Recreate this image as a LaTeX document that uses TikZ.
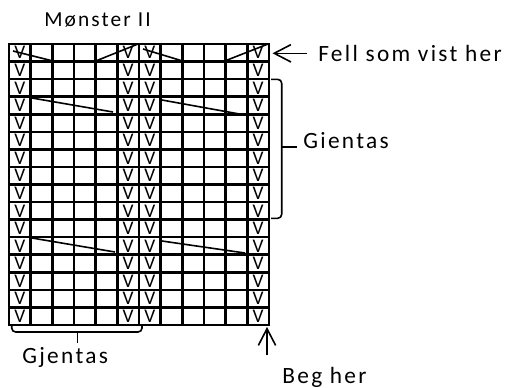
\documentclass[tikz,border=0pt]{standalone}
\usepackage{fontspec}
\setmainfont{Carlito}
\newfontfamily\labelfont{Carlito}[LetterSpace=10]
\usetikzlibrary{arrows.meta}

\tikzset{
  gridline/.style={line width=1.9pt,line cap=rect},
  thinline/.style={line width=1.2pt},
  stitch/.style={inner sep=0,font=\fontsize{14.5}{14.5}\selectfont},
  caption/.style={anchor=base west,inner sep=0,font=\labelfont\fontsize{17.5}{20}\selectfont}
}

\begin{document}
\begin{tikzpicture}[x=0.75pt,y=-0.75pt,>={Straight Barb[length=12.5pt,width=13pt]}]
	  \useasboundingbox (0,0) rectangle (514,387);
	  % rutenett 12 x 16
	  \foreach \i in {0,...,12}
	    \draw[gridline] ({9+\i*260/12},44) -- ({9+\i*260/12},325);
	  \foreach \j in {0,...,16}
	    \draw[gridline] (9,{44+\j*281/16}) -- (269,{44+\j*281/16});
	  % masker
	  \foreach \c in {1,6,7,12}
	    \foreach \r in {1,...,16}
	      \node[stitch] at ({9+(\c-0.5)*260/12},{44+(\r-0.5)*281/16}) {V};
	  % fellinger
	  \draw[thinline] (13,51) -- (51,60.5) (97,60.5) -- (138,44);
	  \draw[thinline] (143,49) -- (181,60.5) (226,60.5) -- (268,44);
	  \draw[thinline] (32,98) -- (113,112) (162,100) -- (245,115);
	  \draw[thinline] (32,238) -- (115,252) (162,241) -- (245,253);
	  % klammer
	  \draw[thinline,rounded corners=3pt] (271,79.3) -- (281.7,79.3) -- (281.7,218.3) -- (271,218.3);
	  \draw[thinline] (281.7,147) -- (297,147);
	  \draw[thinline,rounded corners=3pt] (11.7,325) -- (11.7,332) -- (142,332) -- (142,324);
	  \draw[thinline] (77.3,332) -- (77.3,343);
	  % tekst
	  \node[caption,font=\labelfont\fontsize{16}{18}\selectfont] (title) at (44,26.7) {Mønster II};
	  \node[caption] (fell) at (318,61) {Fell som vist her};
	  \node[caption] (gientas) at (303,148) {Gientas};
	  \node[caption] (gjentas) at (22,363) {Gjentas};
	  \node[caption] (beg) at (282,383) {Beg her};
	  % piler
	  \coordinate (fellTip) at (272.5,53.3);
	  \coordinate (fellTail) at (306.7,53.3);
	  \coordinate (begTip) at (267,327);
	  \coordinate (begTail) at (267,355);
	  \draw[thinline,->] (fellTail) -- (fellTip);
	  \draw[thinline,->] (begTail) -- (begTip);
	\end{tikzpicture}
\end{document}
